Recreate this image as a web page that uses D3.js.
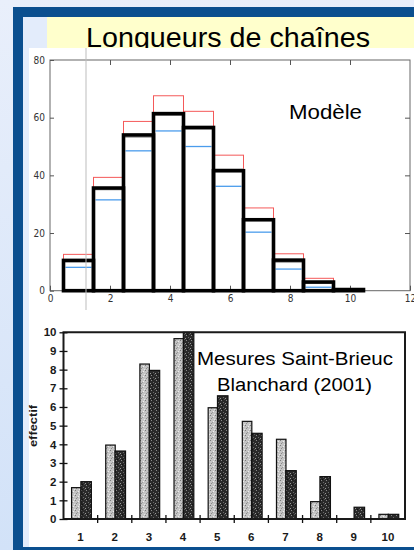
<!DOCTYPE html>
<html>
<head>
<meta charset="utf-8">
<script src="https://cdn.jsdelivr.net/npm/d3@7"></script>
<style>
  html, body { margin: 0; padding: 0; background: #e6eefb; }
  svg { display: block; }
</style>
</head>
<body>
<div id="chart"></div>
<script>
// ---------- Data ----------
const TITLE = 'Longueurs de chaînes';

// top chart (model) : chain length classes 1..10
const modelCats = [1, 2, 3, 4, 5, 6, 7, 8, 9, 10];
const modelBlack = [10.5, 35.6, 54, 61.4, 56.6, 41.6, 24.6, 10.6, 3, 0.4];
const modelRed   = [12.6, 39.3, 58.7, 67.6, 62.2, 47, 28.7, 12.8, 4.3, 0.5];
const modelBlue  = [8.1, 31.5, 48.5, 55.4, 50, 36.2, 20.3, 7.5, 1.2, 0];
const modelGray  = [10, 35, 53.2, 60.8, 56, 42.2, 24.8, 9.8, 2.6, 0.3];
const modelXTicks = [0, 2, 4, 6, 8, 10, 12];
const modelYTicks = [0, 20, 40, 60, 80];

// bottom chart (measures)
const mesCats  = [1, 2, 3, 4, 5, 6, 7, 8, 9, 10];
const mesLight = [1.68, 3.96, 8.3, 9.66, 5.96, 5.23, 4.27, 0.93, 0, 0.25];
const mesDark  = [2.0, 3.64, 7.96, 10, 6.6, 4.59, 2.59, 2.27, 0.63, 0.25];
const mesYTicks = [0, 1, 2, 3, 4, 5, 6, 7, 8, 9, 10];

const W = 414, H = 550;
const sans = '"Liberation Sans", Arial, sans-serif';

const svg = d3.select('#chart').append('svg')
  .attr('width', W).attr('height', H);

const defs = svg.append('defs');

// background gradient
const bg = defs.append('linearGradient').attr('id', 'bg')
  .attr('x1', 0).attr('y1', 0).attr('x2', 0).attr('y2', 1);
bg.append('stop').attr('offset', 0).attr('stop-color', '#e9effb');
bg.append('stop').attr('offset', 1).attr('stop-color', '#d2e2f8');

// stipple textures for the scanned bars
function stipple(id, base, dots) {
  const p = defs.append('pattern').attr('id', id)
    .attr('patternUnits', 'userSpaceOnUse').attr('width', 5).attr('height', 5);
  p.append('rect').attr('width', 5).attr('height', 5).attr('fill', base);
  dots.forEach(([x, y, c]) => p.append('rect')
    .attr('x', x).attr('y', y).attr('width', 1).attr('height', 1).attr('fill', c));
}
stipple('lightFill', '#c4c4c4', [[0,0,'#7a7a7a'],[3,1,'#eeeeee'],[1,3,'#8a8a8a'],[4,4,'#e6e6e6'],[2,2,'#9a9a9a']]);
stipple('darkFill', '#2a2a2a', [[1,0,'#8a8a8a'],[3,2,'#6a6a6a'],[0,3,'#999999'],[4,4,'#555555'],[2,4,'#111111']]);

// ---------- Slide background ----------
svg.append('rect').attr('width', W).attr('height', H).attr('fill', 'url(#bg)');
svg.append('rect').attr('x', 13).attr('y', 7).attr('width', 420).attr('height', 550)
  .attr('fill', '#0b4f8f');
svg.append('rect').attr('x', 23).attr('y', 17).attr('width', 400).attr('height', 530)
  .attr('fill', '#e3ecfb');

// title box
svg.append('rect').attr('x', 47).attr('y', 17).attr('width', 380).attr('height', 40)
  .attr('fill', '#ffffcc');
svg.append('text').attr('x', 228).attr('y', 46.5)
  .attr('text-anchor', 'middle')
  .attr('textLength', 284).attr('lengthAdjust', 'spacingAndGlyphs')
  .style('font-family', sans)
  .style('font-size', '28px').attr('fill', '#000')
  .text(TITLE);

// white picture area
svg.append('rect').attr('x', 29).attr('y', 48).attr('width', 400).attr('height', 499)
  .attr('fill', '#ffffff');

// ---------- Top chart : Modèle ----------
const topG = svg.append('g');
const x1 = d3.scaleLinear().domain([0, 12]).range([50, 410]);
const y1 = d3.scaleLinear().domain([0, 80]).range([290.7, 60]);
const narrow = '"Liberation Sans Narrow", "Arial Narrow", "DejaVu Sans Condensed", sans-serif';

topG.append('rect')
  .attr('x', x1(0)).attr('y', y1(80))
  .attr('width', x1(12) - x1(0)).attr('height', y1(0) - y1(80))
  .attr('fill', 'none').attr('stroke', '#666').attr('stroke-width', 1);

const gxb = topG.append('g').attr('transform', `translate(0,${y1(0)})`)
  .call(d3.axisBottom(x1).tickValues(modelXTicks).tickSize(-5).tickPadding(4));
const gxt = topG.append('g').attr('transform', `translate(0,${y1(80)})`)
  .call(d3.axisTop(x1).tickValues(modelXTicks.slice(1, -1)).tickSize(-5).tickFormat(''));
const gyl = topG.append('g').attr('transform', `translate(${x1(0)},0)`)
  .call(d3.axisLeft(y1).tickValues(modelYTicks).tickSize(4).tickPadding(1));
const gyr = topG.append('g').attr('transform', `translate(${x1(12)},0)`)
  .call(d3.axisRight(y1).tickValues(modelYTicks.slice(1, -1)).tickSize(-5).tickFormat(''));
[gxb, gxt, gyl, gyr].forEach(g => {
  g.select('.domain').remove();
  g.selectAll('line').attr('stroke', '#555');
  g.selectAll('text').style('font-family', narrow).style('font-size', '10px').attr('fill', '#333');
});
gyl.selectAll('.tick line').attr('x2', 4);

// bins are drawn slightly left of the integer, as in the original plot
const binL = c => x1(c - 0.55);
const binR = c => x1(c + 0.45);

topG.selectAll('rect.red').data(modelCats).enter().append('rect')
  .attr('class', 'red')
  .attr('x', c => binL(c)).attr('width', c => binR(c) - binL(c))
  .attr('y', (c, i) => y1(modelRed[i])).attr('height', (c, i) => y1(0) - y1(modelRed[i]))
  .attr('fill', 'none').attr('stroke', '#f23c3c').attr('stroke-width', 1).attr('opacity', 0.85);

topG.selectAll('line.gray').data(modelCats).enter().append('line')
  .attr('class', 'gray')
  .attr('x1', c => binL(c)).attr('x2', c => binR(c))
  .attr('y1', (c, i) => y1(modelGray[i])).attr('y2', (c, i) => y1(modelGray[i]))
  .attr('stroke', '#aaaaaa').attr('stroke-width', 1.2);

topG.selectAll('line.blue').data(modelCats).enter().append('line')
  .attr('class', 'blue')
  .attr('x1', c => binL(c) + 2).attr('x2', c => binR(c) - 2)
  .attr('y1', (c, i) => y1(modelBlue[i])).attr('y2', (c, i) => y1(modelBlue[i]))
  .attr('stroke', '#4b9cec').attr('stroke-width', 1.3)
  .attr('display', (c, i) => modelBlue[i] > 0 ? null : 'none');

topG.selectAll('rect.black').data(modelCats).enter().append('rect')
  .attr('class', 'black')
  .attr('x', c => binL(c)).attr('width', c => binR(c) - binL(c))
  .attr('y', (c, i) => y1(modelBlack[i])).attr('height', (c, i) => y1(0) - y1(modelBlack[i]))
  .attr('fill', 'none').attr('stroke', '#000').attr('stroke-width', 3.6);

topG.append('text').attr('x', 325.5).attr('y', 118.5)
  .attr('text-anchor', 'middle')
  .attr('textLength', 73).attr('lengthAdjust', 'spacingAndGlyphs')
  .style('font-family', sans)
  .style('font-size', '21px').text('Modèle');

// slide guide line
svg.append('line').attr('x1', 86).attr('x2', 86).attr('y1', 48).attr('y2', 310)
  .attr('stroke', '#bdbdbd').attr('stroke-width', 1);

// ---------- Bottom chart : Mesures ----------
const botG = svg.append('g');
const x2 = d3.scaleBand().domain(mesCats).range([63.5, 405]);
const y2 = d3.scaleLinear().domain([0, 10]).range([519, 332.3]);
const bw = x2.bandwidth();

// light then dark bars of each pair
botG.selectAll('rect.light').data(mesCats).enter().append('rect')
  .attr('class', 'light')
  .attr('x', c => x2(c) + bw / 2 - 9).attr('width', 9.5)
  .attr('y', (c, i) => y2(mesLight[i])).attr('height', (c, i) => y2(0) - y2(mesLight[i]))
  .attr('fill', 'url(#lightFill)').attr('stroke', '#111').attr('stroke-width', 1.2)
  .attr('display', (c, i) => mesLight[i] > 0 ? null : 'none');

botG.selectAll('rect.dark').data(mesCats).enter().append('rect')
  .attr('class', 'dark')
  .attr('x', c => x2(c) + bw / 2 + 0.3).attr('width', 10.5)
  .attr('y', (c, i) => y2(mesDark[i])).attr('height', (c, i) => y2(0) - y2(mesDark[i]))
  .attr('fill', 'url(#darkFill)').attr('stroke', '#111').attr('stroke-width', 1.2);

// frame
botG.append('path')
  .attr('d', `M${x2.range()[0]},${y2(0)}V${y2(10)}H${x2.range()[1]}V${y2(0)}Z`)
  .attr('fill', 'none').attr('stroke', '#1a1a1a').attr('stroke-width', 2);

const gy2 = botG.append('g').attr('transform', `translate(${x2.range()[0]},0)`)
  .call(d3.axisLeft(y2).tickValues(mesYTicks).tickSize(4).tickPadding(3));
gy2.select('.domain').remove();
gy2.selectAll('.tick line').attr('x2', 4).attr('x1', -4).attr('stroke', '#111').attr('stroke-width', 1.3);
gy2.selectAll('text').style('font-family', sans).style('font-weight', 'bold')
  .style('font-size', '11.5px').attr('fill', '#1a1a1a');

const gx2 = botG.append('g').attr('transform', `translate(0,${y2(0)})`)
  .call(d3.axisBottom(x2).tickSize(0).tickPadding(14));
gx2.select('.domain').remove();
gx2.selectAll('text').style('font-family', sans).style('font-weight', 'bold')
  .style('font-size', '11.5px').attr('fill', '#1a1a1a');
// separators between categories
botG.selectAll('line.sep').data(mesCats.slice(1)).enter().append('line')
  .attr('class', 'sep')
  .attr('x1', c => x2(c)).attr('x2', c => x2(c))
  .attr('y1', y2(0) - 4).attr('y2', y2(0) + 4)
  .attr('stroke', '#111').attr('stroke-width', 1.3);

botG.append('text')
  .attr('transform', `translate(37,426) rotate(-90)`)
  .attr('text-anchor', 'middle')
  .attr('textLength', 42).attr('lengthAdjust', 'spacingAndGlyphs')
  .style('font-family', sans).style('font-weight', 'bold').style('font-size', '11.5px')
  .attr('fill', '#1a1a1a')
  .text('effectif');

botG.append('text').attr('x', 295).attr('y', 365)
  .attr('text-anchor', 'middle')
  .attr('textLength', 196).attr('lengthAdjust', 'spacingAndGlyphs')
  .style('font-family', sans).style('font-size', '18px')
  .text('Mesures Saint-Brieuc');
botG.append('text').attr('x', 294.5).attr('y', 391)
  .attr('text-anchor', 'middle')
  .attr('textLength', 155).attr('lengthAdjust', 'spacingAndGlyphs')
  .style('font-family', sans).style('font-size', '18px')
  .text('Blanchard (2001)');
</script>
</body>
</html>
